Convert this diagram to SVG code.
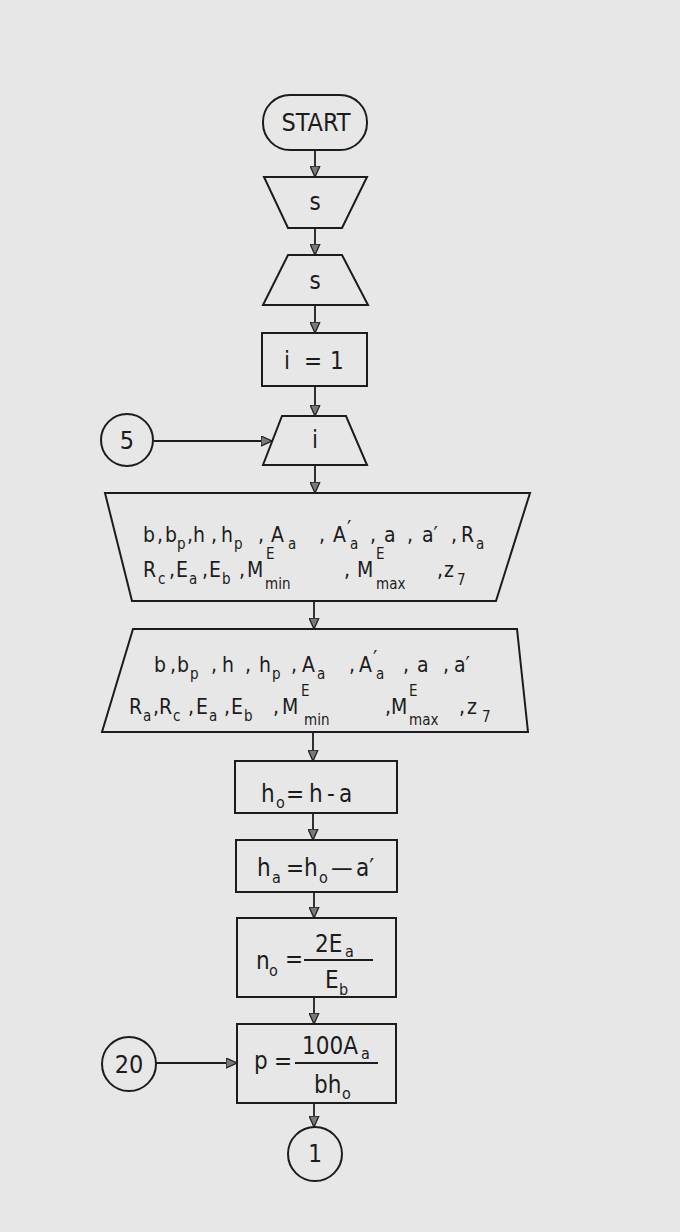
<svg xmlns="http://www.w3.org/2000/svg" width="680" height="1232" viewBox="0 0 680 1232">
<style>
.shape{fill:none;stroke:#1c1c1c;stroke-width:2;stroke-linejoin:miter}
.conn{fill:none;stroke:#1c1c1c;stroke-width:1.8}
text{font-family:"DejaVu Sans Condensed","DejaVu Sans","Liberation Sans",sans-serif;font-stretch:condensed;fill:#1c1c1c}
.big{font-size:25px}
.mid{font-size:24px}
.ln{font-size:21px}
.sub{font-size:15px}
.sbx{font-size:16px}
</style>
<defs>
<marker id="ah" viewBox="0 0 10 10" refX="10" refY="5" markerWidth="11" markerHeight="11" markerUnits="userSpaceOnUse" orient="auto">
<path d="M0,0.5 L10,5 L0,9.5 z" fill="#7a7a7a" stroke="#222" stroke-width="1.2"/>
</marker>
</defs>
<rect x="0" y="0" width="680" height="1232" fill="#e7e7e7"/>

<g id="connectors">
<line class="conn" x1="315" y1="150" x2="315" y2="177" marker-end="url(#ah)"/>
<line class="conn" x1="315" y1="228" x2="315" y2="255" marker-end="url(#ah)"/>
<line class="conn" x1="315" y1="305" x2="315" y2="333" marker-end="url(#ah)"/>
<line class="conn" x1="315" y1="386" x2="315" y2="416" marker-end="url(#ah)"/>
<line class="conn" x1="154" y1="441" x2="272" y2="441" marker-end="url(#ah)"/>
<line class="conn" x1="315" y1="465" x2="315" y2="493" marker-end="url(#ah)"/>
<line class="conn" x1="314" y1="601" x2="314" y2="629" marker-end="url(#ah)"/>
<line class="conn" x1="313" y1="732" x2="313" y2="761" marker-end="url(#ah)"/>
<line class="conn" x1="313" y1="813" x2="313" y2="840" marker-end="url(#ah)"/>
<line class="conn" x1="314" y1="892" x2="314" y2="918" marker-end="url(#ah)"/>
<line class="conn" x1="314" y1="997" x2="314" y2="1024" marker-end="url(#ah)"/>
<line class="conn" x1="156" y1="1063" x2="237" y2="1063" marker-end="url(#ah)"/>
<line class="conn" x1="314" y1="1103" x2="314" y2="1127" marker-end="url(#ah)"/>
</g>

<g id="start">
<rect class="shape" x="263" y="95" width="104" height="55" rx="27" ry="27"/>
<text class="big" x="316" y="131" text-anchor="middle">START</text>
</g>

<g id="input-s1">
<polygon class="shape" points="264,177 367,177 342,228 288,228"/>
<text class="mid" x="315" y="210" text-anchor="middle">s</text>
</g>

<g id="input-s2">
<polygon class="shape" points="288,255 342,255 368,305 263,305"/>
<text class="mid" x="315" y="289" text-anchor="middle">s</text>
</g>

<g id="init-i">
<rect class="shape" x="262" y="333" width="105" height="53"/>
<text class="mid" y="369"><tspan x="284">i</tspan><tspan x="304">=</tspan><tspan x="330">1</tspan></text>
</g>

<g id="input-i">
<polygon class="shape" points="282,416 346,416 367,465 263,465"/>
<text class="mid" x="315" y="448" text-anchor="middle">i</text>
</g>

<g id="conn-5">
<circle class="shape" cx="127" cy="440" r="26"/>
<text class="big" x="127" y="449" text-anchor="middle">5</text>
</g>

<g id="input-params-1">
<polygon class="shape" points="105,493 530,493 496,601 132,601"/>
<text class="ln">
<tspan x="143" y="542">b</tspan><tspan x="157" y="542">,</tspan>
<tspan x="165" y="542">b</tspan><tspan class="sub" x="177" y="549">p</tspan><tspan x="187" y="542">,</tspan>
<tspan x="193" y="542">h</tspan><tspan x="211" y="542">,</tspan>
<tspan x="221" y="542">h</tspan><tspan class="sub" x="234" y="549">p</tspan><tspan x="258" y="542">,</tspan>
<tspan x="271" y="542">A</tspan><tspan class="sub" x="288" y="549">a</tspan><tspan x="319" y="542">,</tspan>
<tspan x="333" y="542">A</tspan><tspan x="347" y="536">′</tspan><tspan class="sub" x="350" y="549">a</tspan><tspan x="370" y="542">,</tspan>
<tspan x="384" y="542">a</tspan><tspan x="407" y="542">,</tspan>
<tspan x="422" y="542">a′</tspan><tspan x="451" y="542">,</tspan>
<tspan x="461" y="542">R</tspan><tspan class="sub" x="476" y="549">a</tspan>
</text>
<text class="ln">
<tspan x="143" y="577">R</tspan><tspan class="sub" x="158" y="584">c</tspan><tspan x="169" y="577">,</tspan>
<tspan x="176" y="577">E</tspan><tspan class="sub" x="189" y="584">a</tspan><tspan x="202" y="577">,</tspan>
<tspan x="209" y="577">E</tspan><tspan class="sub" x="222" y="584">b</tspan><tspan x="239" y="577">,</tspan>
<tspan x="247" y="577">M</tspan><tspan class="sub" x="266" y="559">E</tspan><tspan class="sub" x="265" y="589">min</tspan>
<tspan x="344" y="577">,</tspan>
<tspan x="357" y="577">M</tspan><tspan class="sub" x="376" y="559">E</tspan><tspan class="sub" x="376" y="589">max</tspan>
<tspan x="437" y="577">,</tspan>
<tspan x="444" y="577">z</tspan><tspan class="sub" x="457" y="585">7</tspan>
</text>
</g>

<g id="input-params-2">
<polygon class="shape" points="133,629 517,629 528,732 102,732"/>
<text class="ln">
<tspan x="154" y="672">b</tspan><tspan x="170" y="672">,</tspan>
<tspan x="177" y="672">b</tspan><tspan class="sub" x="190" y="679">p</tspan><tspan x="211" y="672">,</tspan>
<tspan x="222" y="672">h</tspan><tspan x="245" y="672">,</tspan>
<tspan x="259" y="672">h</tspan><tspan class="sub" x="272" y="679">p</tspan><tspan x="291" y="672">,</tspan>
<tspan x="302" y="672">A</tspan><tspan class="sub" x="317" y="679">a</tspan><tspan x="349" y="672">,</tspan>
<tspan x="359" y="672">A</tspan><tspan x="373" y="666">′</tspan><tspan class="sub" x="376" y="679">a</tspan><tspan x="403" y="672">,</tspan>
<tspan x="417" y="672">a</tspan><tspan x="443" y="672">,</tspan>
<tspan x="454" y="672">a′</tspan>
</text>
<text class="ln">
<tspan x="129" y="714">R</tspan><tspan class="sub" x="143" y="721">a</tspan><tspan x="153" y="714">,</tspan>
<tspan x="159" y="714">R</tspan><tspan class="sub" x="173" y="721">c</tspan><tspan x="188" y="714">,</tspan>
<tspan x="196" y="714">E</tspan><tspan class="sub" x="209" y="721">a</tspan><tspan x="224" y="714">,</tspan>
<tspan x="231" y="714">E</tspan><tspan class="sub" x="244" y="721">b</tspan><tspan x="273" y="714">,</tspan>
<tspan x="282" y="714">M</tspan><tspan class="sub" x="301" y="696">E</tspan><tspan class="sub" x="304" y="725">min</tspan>
<tspan x="385" y="714">,</tspan>
<tspan x="391" y="714">M</tspan><tspan class="sub" x="409" y="696">E</tspan><tspan class="sub" x="409" y="725">max</tspan>
<tspan x="459" y="714">,</tspan>
<tspan x="467" y="714">z</tspan><tspan class="sub" x="482" y="722">7</tspan>
</text>
</g>

<g id="calc-ho">
<rect class="shape" x="235" y="761" width="162" height="52"/>
<text class="mid">
<tspan x="261" y="802">h</tspan><tspan class="sbx" x="276" y="808">o</tspan>
<tspan x="286" y="802">=</tspan><tspan x="309" y="802">h</tspan><tspan x="327" y="802">-</tspan><tspan x="339" y="802">a</tspan>
</text>
</g>

<g id="calc-ha">
<rect class="shape" x="236" y="840" width="161" height="52"/>
<text class="mid">
<tspan x="257" y="876">h</tspan><tspan class="sbx" x="272" y="883">a</tspan>
<tspan x="286" y="876">=</tspan><tspan x="304" y="876">h</tspan><tspan class="sbx" x="319" y="883">o</tspan>
<tspan x="331" y="876">—</tspan><tspan x="356" y="876">a′</tspan>
</text>
</g>

<g id="calc-no">
<rect class="shape" x="237" y="918" width="159" height="79"/>
<text class="mid">
<tspan x="256" y="969">n</tspan><tspan class="sbx" x="269" y="976">o</tspan>
<tspan x="285" y="967">=</tspan>
<tspan x="315" y="952">2E</tspan><tspan class="sbx" x="345" y="957">a</tspan>
<tspan x="325" y="988">E</tspan><tspan class="sbx" x="339" y="995">b</tspan>
</text>
<line x1="304" y1="960" x2="373" y2="960" stroke="#1c1c1c" stroke-width="1.8"/>
</g>

<g id="calc-p">
<rect class="shape" x="237" y="1024" width="159" height="79"/>
<text class="mid">
<tspan x="254" y="1069">p</tspan>
<tspan x="274" y="1069">=</tspan>
<tspan x="302" y="1054">100A</tspan><tspan class="sbx" x="361" y="1059">a</tspan>
<tspan x="314" y="1093">bh</tspan><tspan class="sbx" x="342" y="1099">o</tspan>
</text>
<line x1="295" y1="1063" x2="378" y2="1063" stroke="#1c1c1c" stroke-width="1.8"/>
</g>

<g id="conn-20">
<circle class="shape" cx="129" cy="1064" r="27"/>
<text class="big" x="129" y="1073" text-anchor="middle">20</text>
</g>

<g id="conn-1">
<circle class="shape" cx="315" cy="1154" r="27"/>
<text class="mid" x="315" y="1162" text-anchor="middle">1</text>
</g>
</svg>
